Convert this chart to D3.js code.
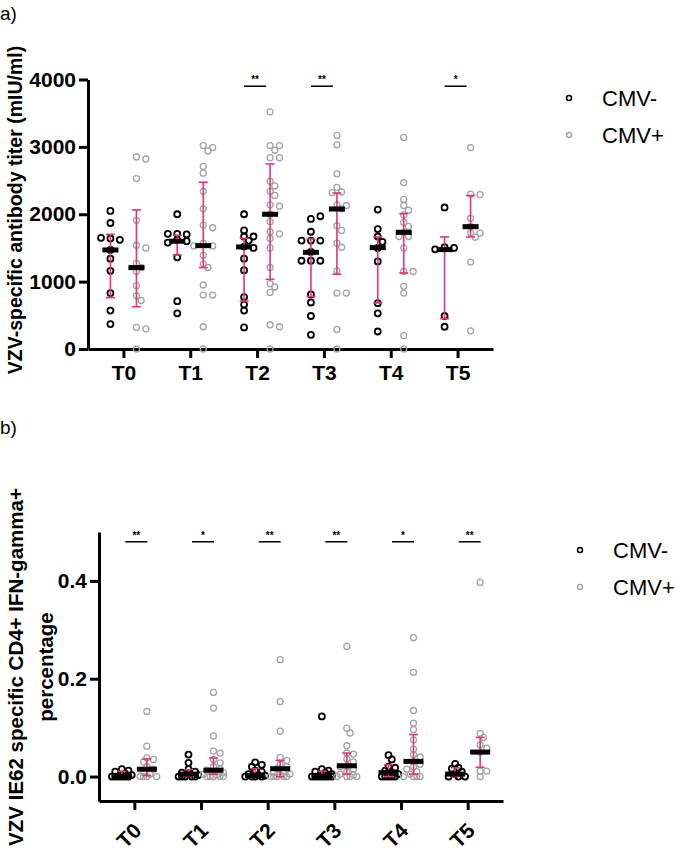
<!DOCTYPE html>
<html>
<head>
<meta charset="utf-8">
<script src="https://cdn.jsdelivr.net/npm/d3@7"></script>
<style>
body { margin: 0; background: #fff; }
svg { font-family: "Liberation Sans", Arial, sans-serif; }
.axis path, .axis line { stroke: #000; stroke-width: 3px; }
.axis text { font-size: 21px; font-weight: bold; fill: #000; }
.ylab { font-size: 19.5px; font-weight: bold; }
.legend-text { font-size: 22px; }
.star { font-size: 10px; font-weight: bold; fill: #000; }
</style>
</head>
<body>
<svg width="675" height="861"></svg>
<script>
var svg = d3.select('svg');

//Categories.
var times = ['T0', 'T1', 'T2', 'T3', 'T4', 'T5'];
var groupNames = ['CMV-', 'CMV+'];

//Panel a: VZV antibody titer, one list of points per time point.
var titerNeg = [
	[2050, 1870, 1640, 1620, 1650, 1470, 1340, 1160, 830, 570, 370],
	[2000, 1710, 1700, 1710, 1620, 1600, 1580, 1360, 710, 530],
	[2000, 1760, 1670, 1670, 1610, 1520, 1500, 1340, 1170, 770, 660, 570, 320],
	[1930, 1970, 1740, 1610, 1610, 1610, 1440, 1310, 1310, 1310, 810, 690, 490, 210],
	[2070, 1780, 1670, 1590, 1500, 1300, 680, 530, 260],
	[2100, 1510, 1500, 1480, 490, 330]
];
var titerPos = [
	[2850, 2820, 2530, 1910, 1540, 1500, 1270, 1210, 1150, 940, 790, 720, 320, 300, 0],
	[3020, 2990, 2940, 2710, 2610, 2340, 2080, 1840, 1800, 1570, 1530, 1530, 1390, 1260, 1210, 950, 800, 800, 330, 0],
	[3520, 3020, 3020, 2950, 2840, 2840, 2490, 2420, 2340, 2280, 2140, 2120, 2000, 1890, 1740, 1710, 1640, 1500, 1210, 970, 920, 840, 360, 330, 0],
	[3170, 3030, 2600, 2400, 2330, 2320, 2140, 2130, 2080, 1830, 1760, 1570, 1510, 1160, 830, 830, 290, 0],
	[3140, 2470, 2220, 2130, 2060, 1990, 1880, 1820, 1730, 1670, 1670, 1500, 1150, 1150, 930, 830, 200, 0],
	[2990, 2300, 2290, 1940, 1820, 1720, 1720, 1660, 1290, 270]
];
//Median and interquartile range as drawn.
var titerNegMed = [1470, 1600, 1515, 1435, 1505, 1475];
var titerNegLo = [762, 1396, 713, 777, 683, 450];
var titerNegHi = [1702, 1688, 1643, 1633, 1663, 1663];
var titerPosMed = [1208, 1534, 2000, 2078, 1732, 1816];
var titerPosLo = [628, 1208, 1034, 1109, 1128, 1663];
var titerPosHi = [2064, 2475, 2747, 2316, 2009, 2277];
var titerTicks = [0, 1000, 2000, 3000, 4000];
var titerSigTimes = ['T2', 'T3', 'T5'];
var titerSigLabels = ['**', '**', '*'];
var titerSigLevel = 3900;

//Panel b: VZV IE62 specific CD4+ IFN-gamma+ percentage.
var ifnNeg = [
	[0.015, 0.012, 0.01, 0.006, 0.003, 0, 0, 0, 0, 0, 0],
	[0.045, 0.028, 0.015, 0.01, 0.008, 0.005, 0.003, 0, 0, 0, 0, 0],
	[0.029, 0.024, 0.02, 0.012, 0.01, 0.005, 0.003, 0.002, 0, 0, 0, 0],
	[0.123, 0.015, 0.012, 0.01, 0.008, 0.005, 0, 0, 0, 0, 0, 0, 0],
	[0.044, 0.035, 0.02, 0.018, 0.012, 0.008, 0.005, 0, 0, 0, 0, 0],
	[0.026, 0.018, 0.016, 0.01, 0.005, 0, 0, 0]
];
var ifnPos = [
	[0.133, 0.062, 0.038, 0.035, 0.03, 0.02, 0.015, 0.01, 0.005, 0, 0, 0, 0],
	[0.172, 0.14, 0.083, 0.052, 0.048, 0.035, 0.028, 0.02, 0.015, 0.013, 0.01, 0.008, 0.005, 0.003, 0, 0, 0, 0, 0],
	[0.239, 0.153, 0.093, 0.039, 0.033, 0.025, 0.02, 0.016, 0.012, 0.008, 0.005, 0.003, 0, 0, 0, 0, 0],
	[0.266, 0.099, 0.089, 0.063, 0.048, 0.046, 0.036, 0.03, 0.022, 0.02, 0.015, 0.01, 0.005, 0.003, 0, 0, 0, 0],
	[0.284, 0.213, 0.135, 0.109, 0.096, 0.075, 0.056, 0.045, 0.04, 0.031, 0.025, 0.02, 0.015, 0.01, 0.005, 0, 0, 0, 0],
	[0.397, 0.088, 0.08, 0.065, 0.058, 0.05, 0.011, 0.011, 0]
];
var ifnNegMed = [0, 0.005, 0.002, 0, 0.008, 0.005];
var ifnNegLo = [0, 0, 0, 0, 0, 0];
var ifnNegHi = [0.011, 0.014, 0.016, 0.011, 0.024, 0.018];
var ifnPosMed = [0.015, 0.013, 0.016, 0.022, 0.031, 0.05];
var ifnPosLo = [0.002, 0.005, 0, 0.005, 0.005, 0.019];
var ifnPosHi = [0.036, 0.038, 0.033, 0.048, 0.086, 0.08];
var ifnTicks = [0, 0.2, 0.4];
var ifnSigTimes = ['T0', 'T1', 'T2', 'T3', 'T4', 'T5'];
var ifnSigLabels = ['**', '*', '**', '**', '*', '**'];
var ifnSigLevel = 0.48;

//Colors.
var negColor = '#000', posColor = '#a3a3a3', errColor = '#e6356f';

//Spread points sideways so they do not sit on top of each other (like a column scatter plot).
function swarm(vals, y, step, minD) {
	var placed = [], cands = [0, 1, -1, 2, -2, 3, -3];
	return vals.map(function(v) {
		var py = y(v), best = 0, bestD = -1;
		for (var i = 0; i < cands.length; ++i) {
			var px = cands[i] * step, d = Infinity;
			placed.forEach(function(p) {
				d = Math.min(d, Math.hypot(p.x - px, p.y - py));
			});
			if (d >= minD) { best = px; bestD = d; break; }
			if (d > bestD) { bestD = d; best = px; }
		}
		placed.push({x: best, y: py});
		return {v: v, dx: best};
	});
}

//Draw one panel.
function panel(opt) {
	var g = svg.append('g');
	var x = d3.scalePoint().domain(times).range([opt.left, opt.right]).padding(0.53);
	var y = d3.scaleLinear().domain(opt.domain).range([opt.bottom, opt.top]);

	//Axes.
	g.append('g')
		.attr('class', 'axis')
		.attr('transform', 'translate(' + opt.left + ',0)')
		.call(d3.axisLeft(y).tickValues(opt.ticks).tickFormat(opt.fmt).tickSize(9).tickSizeOuter(0).tickPadding(3));
	var xAxis = g.append('g')
		.attr('class', 'axis')
		.attr('transform', 'translate(0,' + opt.bottom + ')')
		.call(d3.axisBottom(x).tickSize(9).tickSizeOuter(0));
	xAxis.selectAll('text').attr('y', 16);
	if (opt.rotate) {
		xAxis.selectAll('text')
			.attr('text-anchor', 'end')
			.attr('dy', '0')
			.attr('y', 0)
			.attr('transform', 'translate(8,31) rotate(-45)');
	}

	//Points, then IQR, then median bars.
	var series = [
		{vals: opt.neg, med: opt.negMed, lo: opt.negLo, hi: opt.negHi, off: -opt.off, color: negColor, sw: 1.8},
		{vals: opt.pos, med: opt.posMed, lo: opt.posLo, hi: opt.posHi, off: opt.off, color: posColor, sw: 1.3}
	];
	series.forEach(function(s) {
		s.vals.forEach(function(vals, i) {
			var cx = x(times[i]) + s.off;
			g.selectAll(null)
				.data(swarm(vals, y, opt.step, opt.minD))
				.enter().append('circle')
				.attr('cx', function(d) { return cx + d.dx; })
				.attr('cy', function(d) { return y(d.v); })
				.attr('r', 3)
				.style('fill', 'none')
				.style('stroke', s.color)
				.style('stroke-width', s.sw);
		});
	});
	series.forEach(function(s) {
		times.forEach(function(t, i) {
			var cx = x(t) + s.off;
			g.append('line')
				.attr('x1', cx).attr('x2', cx)
				.attr('y1', y(s.lo[i])).attr('y2', y(s.hi[i]))
				.style('stroke', errColor).style('stroke-width', 1.6);
			[s.lo[i], s.hi[i]].forEach(function(v) {
				g.append('line')
					.attr('x1', cx - 4.5).attr('x2', cx + 4.5)
					.attr('y1', y(v)).attr('y2', y(v))
					.style('stroke', errColor).style('stroke-width', 1.6);
			});
			g.append('rect')
				.attr('x', cx - opt.barW / 2)
				.attr('y', y(s.med[i]) - 2.5)
				.attr('width', opt.barW)
				.attr('height', 5)
				.style('fill', '#000');
		});
	});

	//Significance marks.
	opt.sigTimes.forEach(function(t, i) {
		var x0 = x(t) + opt.sigFrom, x1 = x(t) + opt.sigTo, yy = y(opt.sigLevel);
		g.append('line')
			.attr('x1', x0).attr('x2', x1)
			.attr('y1', yy).attr('y2', yy)
			.style('stroke', '#000').style('stroke-width', 1.5);
		g.append('text')
			.attr('class', 'star')
			.attr('x', (x0 + x1) / 2)
			.attr('y', yy - 3)
			.attr('text-anchor', 'middle')
			.text(opt.sigLabels[i]);
	});

	//Legend.
	groupNames.forEach(function(name, i) {
		g.append('circle')
			.attr('cx', opt.legX)
			.attr('cy', opt.legY + i * 37)
			.attr('r', 2.5)
			.style('fill', 'none')
			.style('stroke', i ? posColor : negColor)
			.style('stroke-width', 1.5);
		g.append('text')
			.attr('class', 'legend-text')
			.attr('x', opt.legX + 33)
			.attr('y', opt.legY + i * 37)
			.attr('dy', '0.36em')
			.text(name);
	});

	//Y axis title.
	opt.ylab.forEach(function(line, i) {
		g.append('text')
			.attr('class', 'ylab')
			.attr('text-anchor', 'middle')
			.attr('transform', 'translate(' + (opt.ylabX + i * 30) + ',' + opt.ylabY + ') rotate(-90)')
			.attr('dy', '0.36em')
			.style('font-size', opt.ylabSize)
			.text(line);
	});

	//Panel letter.
	g.append('text')
		.attr('x', 0)
		.attr('y', opt.letterY)
		.style('font-size', '19px')
		.text(opt.letter);
}

panel({
	letter: 'a)', letterY: 20,
	left: 88, right: 493, top: 79.5, bottom: 349,
	domain: [0, 4000], ticks: titerTicks, fmt: d3.format('d'),
	neg: titerNeg, pos: titerPos,
	negMed: titerNegMed, negLo: titerNegLo, negHi: titerNegHi,
	posMed: titerPosMed, posLo: titerPosLo, posHi: titerPosHi,
	off: 13, barW: 16, step: 4.7, minD: 5.5,
	sigTimes: titerSigTimes, sigLabels: titerSigLabels, sigLevel: titerSigLevel, sigFrom: -13, sigTo: 9,
	legX: 569, legY: 98,
	ylab: ['VZV-specific antibody titer (mIU/ml)'], ylabX: 15, ylabY: 210, ylabSize: '19.5px',
	rotate: false
});

panel({
	letter: 'b)', letterY: 434,
	left: 99, right: 503, top: 532, bottom: 801,
	domain: [-0.05, 0.5], ticks: ifnTicks, fmt: d3.format('.1f'),
	neg: ifnNeg, pos: ifnPos,
	negMed: ifnNegMed, negLo: ifnNegLo, negHi: ifnNegHi,
	posMed: ifnPosMed, posLo: ifnPosLo, posHi: ifnPosHi,
	off: 12.5, barW: 20, step: 3.3, minD: 5,
	sigTimes: ifnSigTimes, sigLabels: ifnSigLabels, sigLevel: ifnSigLevel, sigFrom: -9, sigTo: 13,
	legX: 580, legY: 550,
	ylab: ['VZV IE62 specific CD4+ IFN-gamma+', 'percentage'], ylabX: 16, ylabY: 667, ylabSize: '20.5px',
	rotate: true
});
</script>
</body>
</html>
